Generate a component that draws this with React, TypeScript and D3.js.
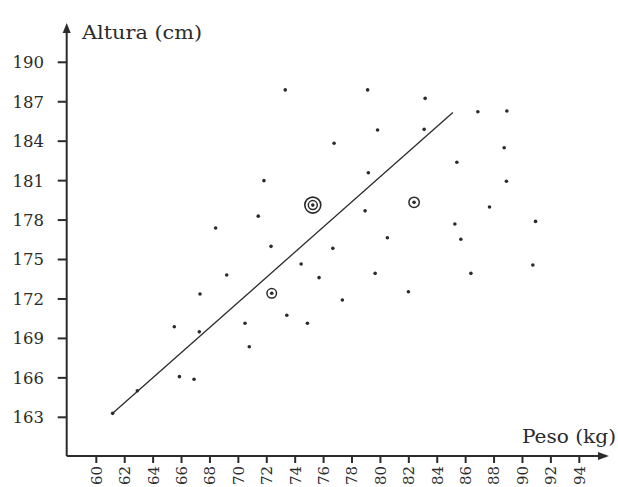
import React from 'react';
import * as d3 from 'd3';

// peso (kg) y altura (cm) de cada persona
const weights = [
  73.3, 71.8, 71.4, 68.4, 72.3, 79.1, 83.15, 86.86, 88.9, 79.8, 83.08, 76.74,
  88.71, 85.38, 79.15, 88.87, 78.92, 87.68, 85.24, 90.92, 80.49, 85.66, 76.65,
  74.42, 69.18, 67.3, 65.49, 70.47, 67.25, 73.41, 74.86, 70.77, 65.85, 66.88,
  62.89, 75.68, 79.63, 86.37, 90.73, 81.97, 77.32,
];
const heights = [
  187.9, 181.0, 178.3, 177.4, 176.0, 187.9, 187.26, 186.24, 186.3, 184.85, 184.9,
  183.84, 183.5, 182.4, 181.6, 180.95, 178.7, 179.0, 177.7, 177.9, 176.66,
  176.54, 175.85, 174.66, 173.82, 172.38, 169.89, 170.15, 169.5, 170.76, 170.15,
  168.37, 166.09, 165.89, 165.02, 173.62, 173.95, 173.95, 174.58, 172.55, 171.92,
];

// puntos destacados con círculos
const ringWeights = [75.24, 82.37, 72.35];
const ringHeights = [179.14, 179.35, 172.43];
const ringCounts = [2, 1, 1];

// recta de regresión
const lineWeights = [61.15, 85.1];
const lineHeights = [163.3, 186.19];

const xTicks = [60, 62, 64, 66, 68, 70, 72, 74, 76, 78, 80, 82, 84, 86, 88, 90, 92, 94];
const yTicks = [163, 166, 169, 172, 175, 178, 181, 184, 187, 190];

const font = '"DejaVu Serif", serif';
const ink = '#2b2b2b';

export default function App() {
  const width = 618;
  const height = 487;
  const axisX = 66.7;
  const axisY = 456;

  const x = d3.scaleLinear().domain([60, 94]).range([96.3, 579.3]);
  const y = d3.scaleLinear().domain([163, 190]).range([417.3, 62.3]);

  const line = d3.line<number>()
    .x((_, i) => x(lineWeights[i]))
    .y(d => y(d));

  return (
    <svg
      width={width}
      height={height}
      style={{ position: 'absolute', left: 0, top: 0, background: '#fff' }}
    >
      {/* Axes */}
      <line x1={axisX} y1={axisY} x2={axisX} y2={30} stroke={ink} strokeWidth={2} />
      <path d={`M${axisX - 4},${33} L${axisX},${23} L${axisX + 4},${33} Z`} fill={ink} />
      <line x1={axisX} y1={axisY} x2={601} y2={axisY} stroke={ink} strokeWidth={2} />
      <path d={`M${598},${axisY - 4} L${609},${axisY} L${598},${axisY + 4} Z`} fill={ink} />

      {/* Y ticks */}
      {yTicks.map(t => (
        <g key={'y' + t}>
          <line x1={axisX - 9} x2={axisX} y1={y(t)} y2={y(t)} stroke={ink} strokeWidth={2} />
          <text
            x={44}
            y={y(t)}
            dy="0.36em"
            textAnchor="end"
            fontFamily={font}
            fontSize={16.5}
            fill={ink}
          >
            {t}
          </text>
        </g>
      ))}

      {/* X ticks */}
      {xTicks.map(t => (
        <g key={'x' + t}>
          <line x1={x(t)} x2={x(t)} y1={axisY} y2={axisY + 7} stroke={ink} strokeWidth={2} />
          <text
            transform={`translate(${x(t)},${466}) rotate(-90)`}
            dy="0.36em"
            textAnchor="end"
            fontFamily={font}
            fontSize={15}
            fill={ink}
          >
            {t}
          </text>
        </g>
      ))}

      <text x={82} y={39} fontFamily={font} fontSize={18.5} fill={ink}
        textLength={120} lengthAdjust="spacingAndGlyphs">Altura (cm)</text>
      <text x={522} y={443} fontFamily={font} fontSize={18.5} fill={ink}
        textLength={94} lengthAdjust="spacingAndGlyphs">Peso (kg)</text>

      {/* Regression line */}
      <path d={line(lineHeights) || ''} fill="none" stroke={ink} strokeWidth={1.3} />
      <circle cx={x(lineWeights[0])} cy={y(lineHeights[0])} r={1.8} fill={ink} />

      {/* Points */}
      {weights.map((w, i) => (
        <circle key={'p' + i} cx={x(w)} cy={y(heights[i])} r={1.8} fill={ink} />
      ))}

      {/* Ringed points */}
      {ringWeights.map((w, i) => (
        <g key={'r' + i}>
          <circle cx={x(w)} cy={y(ringHeights[i])} r={1.8} fill={ink} />
          <circle
            cx={x(w)}
            cy={y(ringHeights[i])}
            r={ringCounts[i] === 2 ? 4.5 : i === 1 ? 5.2 : 4.8}
            fill="none"
            stroke={ink}
            strokeWidth={1.5}
          />
          {ringCounts[i] === 2 && (
            <circle cx={x(w)} cy={y(ringHeights[i])} r={8} fill="none" stroke={ink} strokeWidth={1.6} />
          )}
        </g>
      ))}
    </svg>
  );
}
